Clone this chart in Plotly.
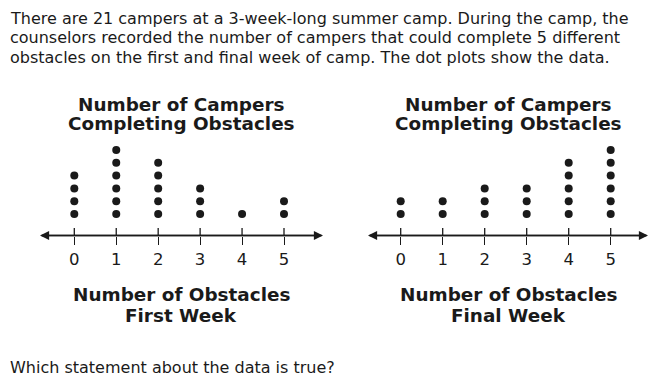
import plotly.graph_objects as go

# ---- data ----
obstacles = [0, 1, 2, 3, 4, 5]
tick_labels = ["0", "1", "2", "3", "4", "5"]
first_week = [4, 6, 5, 3, 1, 2]
final_week = [2, 2, 3, 3, 5, 6]

intro_lines = [
    "There are 21 campers at a 3-week-long summer camp. During the camp, the",
    "counselors recorded the number of campers that could complete 5 different",
    "obstacles on the first and final week of camp. The dot plots show the data.",
]
plot_title = ["Number of Campers", "Completing Obstacles"]
x_titles = [["Number of Obstacles", "First Week"], ["Number of Obstacles", "Final Week"]]
question = "Which statement about the data is true?"

W, H = 672, 388
INK = "#1a1a1a"
BODY_FONT = "DejaVu Sans"


def px(x):
    return x / W


def py(y):
    return 1 - y / H


fig = go.Figure()

# axis geometry (pixel layout)
y_bottom, y_top = 235.5, 140.0
dot_px, dot_step = 214.0, 12.8
y_axis_val = 1 - (y_bottom - dot_px) / dot_step
y_top_val = y_axis_val + (y_bottom - y_top) / dot_step

panels = [
    dict(xa="x", ya="y", zero=74.3, scale=41.94, dom=[0, 0.5], left=40, right=323, center=181, data=first_week),
    dict(xa="x2", ya="y2", zero=400.7, scale=42.0, dom=[0.5, 1], left=368, right=648, center=508, data=final_week),
]

for i, p in enumerate(panels):
    # dots
    xs, ys = [], []
    for v, c in zip(obstacles, p["data"]):
        for k in range(1, c + 1):
            xs.append(v)
            ys.append(k)
    fig.add_trace(go.Scatter(x=xs, y=ys, mode="markers", xaxis=p["xa"], yaxis=p["ya"],
                             marker=dict(size=8, color=INK), cliponaxis=False,
                             hoverinfo="skip", showlegend=False))
    # upper part of the tick marks
    tx, ty = [], []
    for v in obstacles:
        tx += [v, v, None]
        ty += [y_axis_val, y_axis_val + 7.5 / dot_step, None]
    fig.add_trace(go.Scatter(x=tx, y=ty, mode="lines", xaxis=p["xa"], yaxis=p["ya"],
                             line=dict(color=INK, width=1.3), hoverinfo="skip", showlegend=False))
    # number line with arrows (each arrow spans the whole line)
    lo = (p["left"] - p["zero"]) / p["scale"]
    hi = (p["right"] - p["zero"]) / p["scale"]
    for end, start in ((lo, hi), (hi, lo)):
        fig.add_annotation(x=end, y=y_axis_val, ax=start, ay=y_axis_val, xref=p["xa"], yref=p["ya"],
                           axref=p["xa"], ayref=p["ya"], text="", showarrow=True,
                           arrowhead=2, arrowsize=1.4, arrowwidth=1.3, arrowcolor=INK, standoff=0,
                           startstandoff=0)
    # titles
    for t, yy in zip(plot_title, [105, 124]):
        fig.add_annotation(x=px(p["center"]), y=py(yy), xref="paper", yref="paper", text=t,
                           showarrow=False, xanchor="center", yanchor="middle",
                           font=dict(family=BODY_FONT, size=18.4, color=INK, weight="bold"))
    for t, yy in zip(x_titles[i], [294, 315]):
        fig.add_annotation(x=px(p["center"]), y=py(yy), xref="paper", yref="paper", text=t,
                           showarrow=False, xanchor="center", yanchor="middle",
                           font=dict(family=BODY_FONT, size=18.4, color=INK, weight="bold"))

    x0 = (p["dom"][0] * W - p["zero"]) / p["scale"]
    x1 = (p["dom"][1] * W - p["zero"]) / p["scale"]
    axis_x = dict(domain=p["dom"], range=[x0, x1], showgrid=False, zeroline=False, showline=False,
                  tickmode="array", tickvals=obstacles, ticktext=tick_labels,
                  ticks="outside", ticklen=8.5, tickwidth=1.3, tickcolor=INK,
                  tickfont=dict(family=BODY_FONT, size=16.5, color=INK), fixedrange=True)
    axis_y = dict(domain=[py(y_bottom), py(y_top)], range=[y_axis_val, y_top_val], visible=False,
                  fixedrange=True)
    if i == 0:
        fig.update_layout(xaxis=dict(**axis_x, anchor="y"), yaxis=dict(**axis_y, anchor="x"))
    else:
        fig.update_layout(xaxis2=dict(**axis_x, anchor="y2"), yaxis2=dict(**axis_y, anchor="x2"))

# intro text
for line, yy in zip(intro_lines, [18, 37.5, 57]):
    fig.add_annotation(x=px(8), y=py(yy), xref="paper", yref="paper", text=line, showarrow=False,
                       xanchor="left", yanchor="middle",
                       font=dict(family=BODY_FONT, size=16, color=INK))
fig.add_annotation(x=px(8), y=py(367), xref="paper", yref="paper", text=question, showarrow=False,
                   xanchor="left", yanchor="middle",
                   font=dict(family=BODY_FONT, size=16, color=INK))

fig.update_layout(width=W, height=H, margin=dict(l=0, r=0, t=0, b=0),
                  paper_bgcolor="white", plot_bgcolor="white", showlegend=False)

fig.write_html("out.html")
